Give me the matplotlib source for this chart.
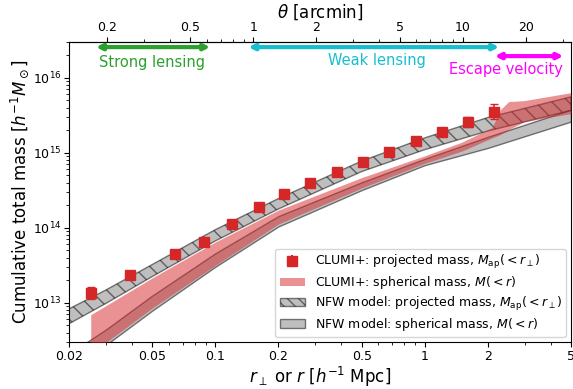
import numpy as np
import matplotlib.pyplot as plt
from matplotlib.ticker import FixedLocator, LogLocator, NullFormatter
from matplotlib.patches import Patch

# CLUMI+ projected mass data points
r_pts = [0.0254, 0.0392, 0.0641, 0.0885, 0.1196, 0.161, 0.214, 0.2845,
         0.382, 0.506, 0.675, 0.905, 1.205, 1.605, 2.14]
m_pts = [1.35e13, 2.38e13, 4.43e13, 6.5e13, 1.12e14, 1.87e14, 2.78e14,
         4.01e14, 5.54e14, 7.52e14, 1.035e15, 1.42e15, 1.92e15, 2.57e15, 3.55e15]
m_err_lo = [0.23e13, 0.15e13, 0.25e13, 0.35e13, 0.06e14, 0.1e14, 0.15e14,
            0.2e14, 0.3e14, 0.4e14, 0.06e15, 0.09e15, 0.15e15, 0.37e15, 0.7e15]
m_err_hi = [0.27e13, 0.16e13, 0.27e13, 0.38e13, 0.07e14, 0.11e14, 0.16e14,
            0.22e14, 0.32e14, 0.45e14, 0.07e15, 0.1e15, 0.17e15, 0.45e15, 0.9e15]

# CLUMI+ spherical mass band
r_sph = [0.0254, 0.05, 0.1, 0.2, 0.5, 1.0, 1.5, 2.1, 2.3, 2.52, 3.0, 5.0]
sph_lo = [2.09e12, 8.5e12, 3.16e13, 1.12e14, 3.39e14, 7.24e14, 1.05e15, 1.58e15,
          1.75e15, 2.04e15, 2.61e15, 3.33e15]
sph_hi = [6.93e12, 2.15e13, 6.46e13, 1.72e14, 4.67e14, 9.12e14, 1.38e15, 2.17e15,
          3.77e15, 4.82e15, 4.97e15, 6.34e15]

# NFW model bands
r_nfw = [0.02, 0.03, 0.05, 0.1, 0.2, 0.5, 1.0, 2.0, 5.0]
nfw_proj_lo = [5.25e12, 9.8e12, 2.24e13, 6.68e13, 1.78e14, 5.62e14, 1.10e15, 1.95e15, 3.68e15]
nfw_proj_hi = [8.3e12, 1.48e13, 3.24e13, 9.44e13, 2.45e14, 7.76e14, 1.58e15, 2.95e15, 5.57e15]
nfw_sph_lo = [1.25e12, 2.74e12, 7.87e12, 3.02e13, 1.04e14, 3.18e14, 6.84e14, 1.16e15, 2.61e15]
nfw_sph_hi = [2.09e12, 4.4e12, 1.25e13, 4.57e13, 1.43e14, 4.04e14, 8.3e14, 1.63e15, 3.77e15]

# angular scale: h^-1 Mpc per arcmin
mpc_per_arcmin = 0.152

# ranges of the methods (h^-1 Mpc)
strong_range = [0.0269, 0.0946]
weak_range = [0.1437, 2.27]
escape_range = [2.16, 4.6]

x_ticks = [0.02, 0.05, 0.1, 0.2, 0.5, 1, 2, 5]
x_labels = ['0.02', '0.05', '0.1', '0.2', '0.5', '1', '2', '5']
theta_ticks = [0.2, 0.5, 1, 2, 5, 10, 20]
theta_labels = ['0.2', '0.5', '1', '2', '5', '10', '20']

red = '#d62728'

fig = plt.figure(figsize=(5.73, 3.89), dpi=100)
ax = fig.add_axes([0.1204, 0.1208, 0.8761, 0.7712])
ax.set_xscale('log')
ax.set_yscale('log')

ax.fill_between(r_nfw, nfw_sph_lo, nfw_sph_hi, facecolor='gray', edgecolor='k',
                alpha=0.5, lw=1, zorder=1)
ax.fill_between(r_nfw, nfw_proj_lo, nfw_proj_hi, facecolor='gray', edgecolor='k',
                hatch='\\\\', alpha=0.5, lw=1, zorder=2)
ax.fill_between(r_sph, sph_lo, sph_hi, color=red, alpha=0.5, lw=0, zorder=3)
ax.errorbar(r_pts, m_pts, yerr=[m_err_lo, m_err_hi], fmt='s', color=red,
            ms=7, capsize=3, elinewidth=1.2, zorder=5)

ax.set_xlim(0.02, 5)
ax.set_ylim(3e12, 3e16)
ax.xaxis.set_major_locator(FixedLocator(x_ticks))
ax.set_xticklabels(x_labels)
ax.xaxis.set_minor_locator(LogLocator(base=10, subs=np.arange(2, 10)))
ax.xaxis.set_minor_formatter(NullFormatter())
ax.tick_params(which='both', labelsize=9, top=False, right=False, pad=2)
ax.set_xlabel(r'$r_\perp$ or $r$ [$h^{-1}$ Mpc]', fontsize=12, labelpad=1.5)
ax.set_ylabel(r'Cumulative total mass [$h^{-1}M_\odot$]', fontsize=12, labelpad=1)

secax = ax.secondary_xaxis('top', functions=(lambda r: r / mpc_per_arcmin,
                                             lambda t: t * mpc_per_arcmin))
secax.xaxis.set_major_locator(FixedLocator(theta_ticks))
secax.set_xticklabels(theta_labels)
secax.xaxis.set_minor_locator(LogLocator(base=10, subs=np.arange(2, 10)))
secax.xaxis.set_minor_formatter(NullFormatter())
secax.tick_params(labelsize=9, pad=2)
secax.set_xlabel(r'$\theta$ [arcmin]', fontsize=12, labelpad=2.5)

# method ranges
tr = ax.get_xaxis_transform()
for rng, yy, col in [(strong_range, 0.983, '#2ca02c'), (weak_range, 0.983, '#17becf'),
                     (escape_range, 0.953, 'magenta')]:
    ax.annotate('', xy=(rng[1], yy), xytext=(rng[0], yy), xycoords=tr, textcoords=tr,
                arrowprops=dict(arrowstyle='<|-|>', color=col, lw=3,
                                mutation_scale=8, shrinkA=0, shrinkB=0))
ax.text(0.0499, 0.933, 'Strong lensing', transform=tr, color='#2ca02c',
        fontsize=10.5, ha='center', va='center')
ax.text(0.59, 0.94, 'Weak lensing', transform=tr, color='#17becf',
        fontsize=10.5, ha='center', va='center')
ax.text(2.45, 0.907, 'Escape velocity', transform=tr, color='magenta',
        fontsize=10.5, ha='center', va='center')

h_pts = ax.errorbar([], [], yerr=[], fmt='s', color=red, ms=7, capsize=3)
handles = [h_pts,
           Patch(facecolor=red, alpha=0.5, lw=0),
           Patch(facecolor='gray', edgecolor='k', hatch='\\\\\\', alpha=0.5),
           Patch(facecolor='gray', edgecolor='k', alpha=0.5)]
labels = [r'CLUMI+: projected mass, $M_{\rm ap}(<r_\perp)$',
          r'CLUMI+: spherical mass, $M(<r)$',
          r'NFW model: projected mass, $M_{\rm ap}(<r_\perp)$',
          r'NFW model: spherical mass, $M(<r)$']
ax.legend(handles, labels, loc='lower right', fontsize=9, labelspacing=0.25,
          borderpad=0.35, borderaxespad=0.4)

plt.savefig('out.png', dpi=100)
